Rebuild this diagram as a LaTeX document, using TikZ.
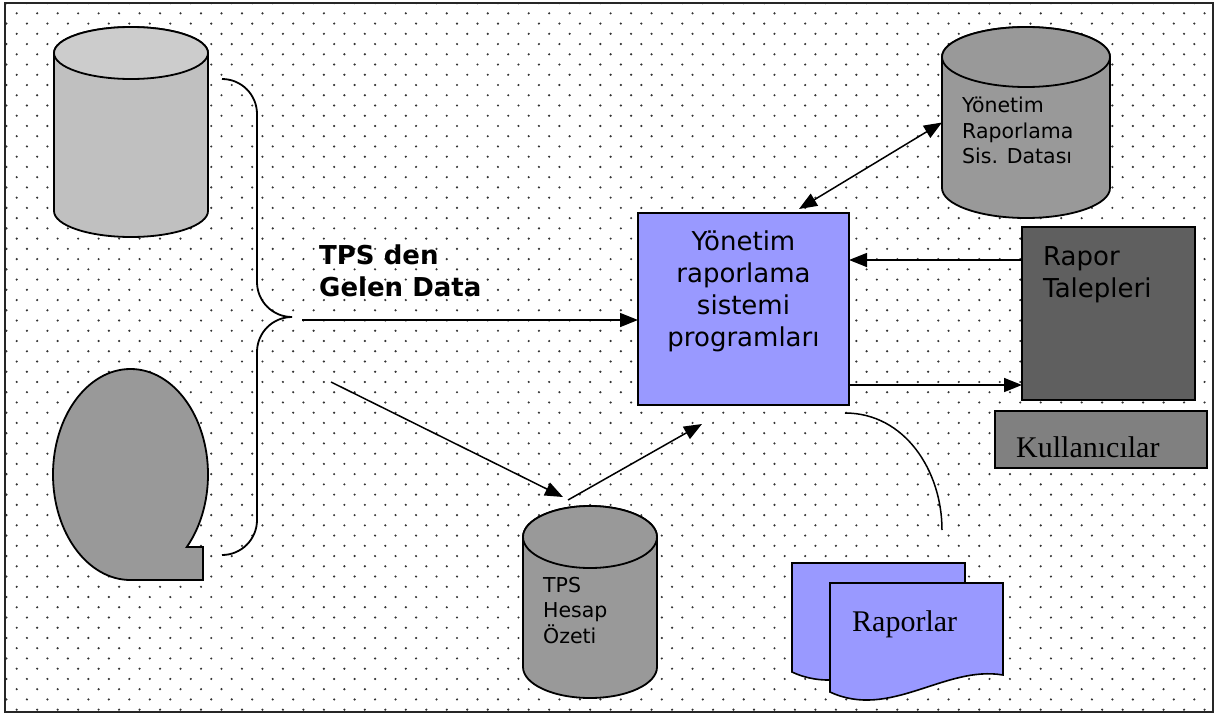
\documentclass[tikz,border=0pt]{standalone}
\usepackage{fontspec}
\setmainfont{Liberation Serif}
\setsansfont{DejaVu Sans}
\usetikzlibrary{arrows.meta,calc}

\definecolor{progblue}{HTML}{9999FF}
\definecolor{drumgray}{HTML}{999999}
\definecolor{srcbody}{HTML}{C0C0C0}
\definecolor{srctop}{HTML}{CCCCCC}
\definecolor{talepgray}{HTML}{5F5F5F}
\definecolor{usergray}{HTML}{808080}

\tikzset{
    flow/.style={line width=1.5pt, -{Triangle[length=18pt,width=14pt]}},
    twoway/.style={line width=1.5pt, {Triangle[length=18pt,width=14pt]}-{Triangle[length=18pt,width=14pt]}},
    box/.style={draw, line width=1.6pt, inner sep=0pt, outer sep=0pt},
    drum/.style={inner sep=0pt, outer sep=0pt},
    sanstext/.style={font=\sffamily\fontsize{26}{32}\selectfont, inner sep=0pt},
    drumtext/.style={font=\sffamily\fontsize{20.5}{25.5}\selectfont, inner sep=0pt, align=left},
    serifbig/.style={font=\fontsize{30}{36}\selectfont, inner sep=0pt},
    report/.pic={
        \draw[line width=1.6pt, fill=progblue] (0,0) -- (173,0) -- (173,92)
            .. controls (115,82) and (60,137) .. (0,109) -- cycle;
    }
}

\begin{document}
\begin{tikzpicture}[x=1pt,y=-1pt]
    \useasboundingbox (0,0) rectangle (1215,715);

    \begin{scope}
        \clip (5,3) rectangle (1213,712);
        \foreach \r in {0,...,69}{
            \pgfmathsetmacro{\dx}{mod(\r,2)==1 ? 16.7 : 6.46}
            \foreach \k in {0,...,59}
                \fill[black!80] ({\dx+20.48*\k},{3.1+10.24*\r}) circle[radius=1.2];
        }
    \end{scope}
    \draw[line width=1.8pt, black!85] (5,3) rectangle (1213,712);

    \node[drum, minimum width=154pt, minimum height=210pt] (srcdb) at (131,132) {};
    \node[drum, minimum width=168pt, minimum height=191pt] (ydata) at (1026,122.5) {};
    \node[drum, minimum width=134pt, minimum height=192pt] (tpsdb) at (590,602) {};
    \foreach \n/\rx/\ry/\bodyc/\topc in {srcdb/77/26/srcbody/srctop, ydata/84/30/drumgray/drumgray, tpsdb/67/31/drumgray/drumgray}{
        \draw[line width=1.8pt, fill=\bodyc] ([yshift=-\ry*1pt]\n.north west) -- ([yshift=\ry*1pt]\n.south west)
            arc[start angle=180, end angle=360, x radius=\rx*1pt, y radius=\ry*1pt]
            -- ([yshift=-\ry*1pt]\n.north east)
            arc[start angle=0, end angle=180, x radius=\rx*1pt, y radius=\ry*1pt] -- cycle;
        \draw[line width=1.8pt, fill=\topc] ([yshift=-\ry*1pt]\n.north) ellipse[x radius=\rx*1pt, y radius=\ry*1pt];
    }

    \draw[line width=1.8pt, fill=drumgray] (130.5,580)
        arc[start angle=270, end angle=-43.4, x radius=77.5pt, y radius=105.5pt]
        -- (203,547) -- (203,580) -- cycle;

    \draw[line width=1.8pt] (222,79) arc[start angle=90, end angle=0, radius=35pt] -- (257,282)
        arc[start angle=180, end angle=270, radius=35pt]
        arc[start angle=90, end angle=180, radius=35pt] -- (257,520)
        arc[start angle=0, end angle=-90, radius=35pt];

    \node[box, fill=progblue, minimum width=211pt, minimum height=192pt] (prog) at (743.5,309) {};
    \node[sanstext, align=center, anchor=north] (progtext) at (743.5,231) {Yönetim\\raporlama\\sistemi\\programları};
    \node[box, fill=talepgray, minimum width=173pt, minimum height=173pt] (talep) at (1108.5,313.5) {};
    \node[sanstext, align=left, anchor=north west] (taleptext) at (1043,246) {Rapor\\Talepleri};
    \node[box, fill=usergray, minimum width=212pt, minimum height=57pt] (kull) at (1101,439.5) {};
    \node[serifbig, anchor=base west] (kulltext) at (1016,457) {Kullanıcılar};

    \node[drumtext, anchor=north west] (ydatatext) at (962,97) {Yönetim\\Raporlama\\Sis. Datası};
    \node[drumtext, anchor=north west] (tpstext) at (543,577) {TPS\\Hesap\\Özeti};
    \node[sanstext, font=\sffamily\bfseries\fontsize{26}{32}\selectfont, align=left, anchor=north west] (gelen) at (319,245) {TPS den\\Gelen Data};

    \pic at (792,563) {report};
    \pic at (830,583) {report};
    \node[serifbig, anchor=base west] (rapor) at (852,631) {Raporlar};

    \coordinate (gelenin) at (302,320);
    \coordinate (tpsin) at (331,382);
    \coordinate (raporend) at (942,530);

    \draw[flow] (gelenin) -- (gelenin -| prog.west);
    \draw[flow] ([yshift=53.5pt]talep.west) -- ([yshift=53.5pt]talep.west -| prog.east);
    \draw[flow] ([yshift=-76pt]prog.east) -- ([yshift=-76pt]prog.east -| talep.west);
    \draw[twoway] ([xshift=55.5pt,yshift=4pt]prog.north) -- (ydata.west);
    \draw[flow] (tpsin) -- ([xshift=-27pt,yshift=9pt]tpsdb.north);
    \draw[flow] ([xshift=-22pt,yshift=6pt]tpsdb.north) -- ([xshift=-41.5pt,yshift=-19pt]prog.south);
    \draw[line width=1.5pt] ([xshift=-4pt,yshift=-8pt]prog.south east) to[out=0,in=90] (raporend);
\end{tikzpicture}
\end{document}
